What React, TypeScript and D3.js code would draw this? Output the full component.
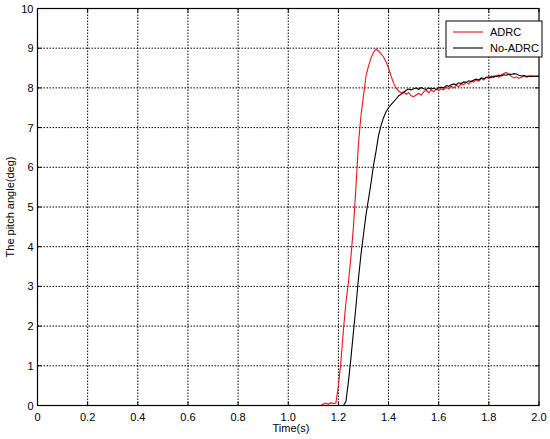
import React from "react";
import * as d3 from "d3";

const xTicks = [0, 0.2, 0.4, 0.6, 0.8, 1.0, 1.2, 1.4, 1.6, 1.8, 2.0];
const xTickLabels = ["0", "0.2", "0.4", "0.6", "0.8", "1.0", "1.2", "1.4", "1.6", "1.8", "2.0"];
const yTicks = [0, 1, 2, 3, 4, 5, 6, 7, 8, 9, 10];
const seriesNames = ["ADRC", "No-ADRC"];
const seriesColors = ["#e8141a", "#000000"];

const adrcData: [number, number][] = [
  [0, 0], [1.13, 0], [1.14, 0.04], [1.15, 0.06], [1.16, 0.03], [1.17, 0.07], [1.18, 0.05], [1.19, 0.06],
  [1.2, 0.5], [1.21, 1.1], [1.22, 1.9], [1.23, 2.6], [1.24, 3.1], [1.25, 3.75], [1.26, 4.5], [1.27, 5.5],
  [1.28, 6.6], [1.29, 7.3], [1.3, 7.8], [1.31, 8.3], [1.32, 8.55], [1.33, 8.75], [1.34, 8.9], [1.35, 8.98],
  [1.36, 8.93], [1.37, 8.86], [1.38, 8.78], [1.39, 8.66], [1.4, 8.5], [1.41, 8.3], [1.42, 8.12], [1.43, 8.0],
  [1.44, 7.92], [1.45, 7.88], [1.46, 7.9], [1.47, 7.84], [1.48, 7.88], [1.49, 7.8], [1.5, 7.78], [1.51, 7.82],
  [1.52, 7.86], [1.53, 7.82], [1.54, 7.9], [1.55, 7.94], [1.56, 7.88], [1.57, 7.95], [1.58, 7.9], [1.59, 7.97],
  [1.6, 7.93], [1.61, 7.98], [1.62, 7.95], [1.63, 8.02], [1.64, 7.98], [1.65, 8.04], [1.66, 8.0], [1.67, 8.07],
  [1.68, 8.03], [1.69, 8.1], [1.7, 8.08], [1.71, 8.14], [1.72, 8.1], [1.73, 8.17], [1.74, 8.15], [1.75, 8.2],
  [1.76, 8.17], [1.77, 8.24], [1.78, 8.2], [1.79, 8.27], [1.8, 8.24], [1.81, 8.3], [1.82, 8.26], [1.83, 8.31],
  [1.84, 8.27], [1.85, 8.33], [1.86, 8.36], [1.87, 8.39], [1.88, 8.33], [1.89, 8.29], [1.9, 8.25], [1.91, 8.28],
  [1.92, 8.24], [1.93, 8.27], [1.94, 8.3], [1.95, 8.27], [1.96, 8.29], [1.97, 8.31], [1.98, 8.28], [1.99, 8.3],
  [2.0, 8.29],
];

const noAdrcData: [number, number][] = [
  [0, 0], [1.22, 0], [1.23, 0.1], [1.24, 0.6], [1.25, 1.2], [1.26, 1.85], [1.27, 2.5], [1.28, 3.2],
  [1.29, 3.8], [1.3, 4.3], [1.31, 4.8], [1.32, 5.2], [1.33, 5.6], [1.34, 6.05], [1.35, 6.4], [1.36, 6.8],
  [1.37, 7.05], [1.38, 7.25], [1.39, 7.4], [1.4, 7.5], [1.41, 7.58], [1.42, 7.65], [1.43, 7.72], [1.44, 7.8],
  [1.45, 7.84], [1.46, 7.88], [1.47, 7.94], [1.48, 7.97], [1.49, 7.95], [1.5, 7.98], [1.51, 8.0], [1.52, 7.96],
  [1.53, 8.01], [1.54, 7.98], [1.55, 7.96], [1.56, 8.0], [1.57, 7.97], [1.58, 7.99], [1.59, 7.96], [1.6, 8.0],
  [1.61, 8.02], [1.62, 8.0], [1.63, 8.06], [1.64, 8.04], [1.65, 8.08], [1.66, 8.1], [1.67, 8.08], [1.68, 8.13],
  [1.69, 8.11], [1.7, 8.15], [1.71, 8.14], [1.72, 8.18], [1.73, 8.16], [1.74, 8.2], [1.75, 8.22], [1.76, 8.2],
  [1.77, 8.25], [1.78, 8.23], [1.79, 8.26], [1.8, 8.28], [1.81, 8.26], [1.82, 8.3], [1.83, 8.29], [1.84, 8.32],
  [1.85, 8.3], [1.86, 8.33], [1.87, 8.32], [1.88, 8.35], [1.89, 8.34], [1.9, 8.36], [1.91, 8.35], [1.92, 8.32],
  [1.93, 8.3], [1.94, 8.31], [1.95, 8.29], [1.96, 8.3], [1.97, 8.28], [1.98, 8.3], [1.99, 8.29], [2.0, 8.3],
];

const W = 550;
const H = 439;
const L = 37.5;
const R = 539;
const T = 8.5;
const B = 405.5;
const FONT = "'Liberation Sans', Arial, sans-serif";

export default function App() {
  const x = d3.scaleLinear().domain([0, 2]).range([L, R]);
  const y = d3.scaleLinear().domain([0, 10]).range([B, T]);
  const line = d3
    .line<[number, number]>()
    .x((d) => x(d[0]))
    .y((d) => y(d[1]));
  const series = [adrcData, noAdrcData];

  return (
    <svg
      width={W}
      height={H}
      style={{ position: "absolute", left: 0, top: 0, background: "#fff" }}
      fontFamily={FONT}
    >
      <rect x={0} y={0} width={W} height={H} fill="#fff" />
      <rect x={L} y={T} width={R - L} height={B - T} fill="#fff" />
      {/* grid */}
      {xTicks.slice(1, -1).map((t) => (
        <line key={"gx" + t} x1={x(t)} x2={x(t)} y1={T} y2={B} stroke="#000" strokeWidth={1} strokeDasharray="1.5,1.5" />
      ))}
      {yTicks.slice(1, -1).map((t) => (
        <line key={"gy" + t} x1={L} x2={R} y1={y(t)} y2={y(t)} stroke="#000" strokeWidth={1} strokeDasharray="1.5,1.5" />
      ))}
      {/* ticks */}
      {xTicks.map((t) => (
        <g key={"tx" + t}>
          <line x1={x(t)} x2={x(t)} y1={B} y2={B - 4} stroke="#000" />
          <line x1={x(t)} x2={x(t)} y1={T} y2={T + 4} stroke="#000" />
        </g>
      ))}
      {yTicks.map((t) => (
        <g key={"ty" + t}>
          <line x1={L} x2={L + 4} y1={y(t)} y2={y(t)} stroke="#000" />
          <line x1={R} x2={R - 4} y1={y(t)} y2={y(t)} stroke="#000" />
        </g>
      ))}
      {/* series */}
      {series.map((s, i) => (
        <path key={"s" + i} d={line(s) || ""} fill="none" stroke={seriesColors[i]} strokeWidth={1.1} />
      ))}
      {/* box */}
      <rect x={L} y={T} width={R - L} height={B - T} fill="none" stroke="#000" strokeWidth={1.2} />
      {/* tick labels */}
      {xTicks.map((t, i) => (
        <text key={"lx" + t} x={x(t)} y={B + 15} fontSize={11} textAnchor="middle" fill="#000">
          {xTickLabels[i]}
        </text>
      ))}
      {yTicks.map((t) => (
        <text key={"ly" + t} x={L - 4} y={y(t) + 4} fontSize={11} textAnchor="end" fill="#000">
          {t}
        </text>
      ))}
      <text x={291} y={432} fontSize={11} textAnchor="middle" fill="#000">
        Time(s)
      </text>
      <text
        transform={`translate(14,${(T + B) / 2}) rotate(-90)`}
        fontSize={11}
        textAnchor="middle"
        fill="#000"
      >
        The pitch angle(deg)
      </text>
      {/* legend */}
      <rect x={446} y={21} width={96} height={36} fill="#fff" stroke="#000" strokeWidth={1} />
      {seriesNames.map((n, i) => (
        <g key={"lg" + i}>
          <line x1={453} x2={483} y1={32 + i * 16} y2={32 + i * 16} stroke={seriesColors[i]} strokeWidth={1.1} />
          <text x={490} y={32 + i * 16 + 4} fontSize={11} fill="#000">
            {n}
          </text>
        </g>
      ))}
    </svg>
  );
}
